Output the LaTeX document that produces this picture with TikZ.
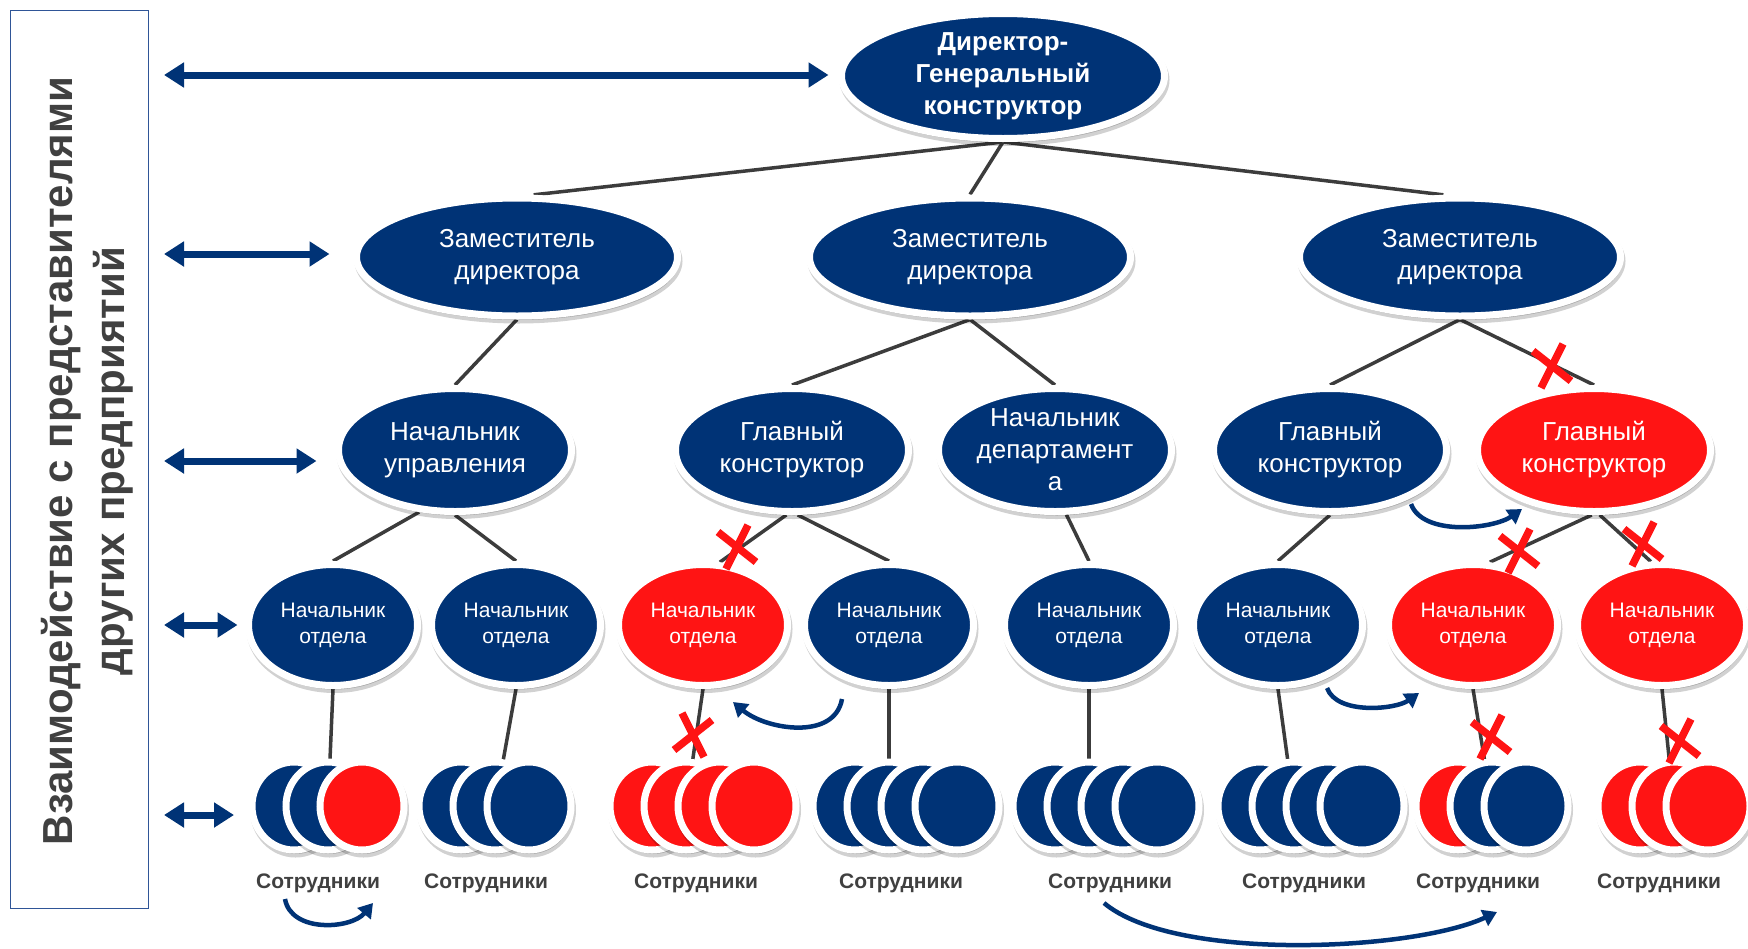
\documentclass[tikz,border=0pt]{standalone}
\usepackage{fontspec}
\setmainfont{Liberation Sans}
\usetikzlibrary{shapes.geometric,arrows.meta,shadows,backgrounds}
\definecolor{navy}{RGB}{0,51,118}
\definecolor{myred}{RGB}{255,20,20}
\definecolor{linegray}{RGB}{60,60,60}
\definecolor{textgray}{RGB}{64,64,64}
\definecolor{boxblue}{RGB}{47,85,151}
\tikzset{
  shad/.style={drop shadow={shadow xshift=1.5pt,shadow yshift=-4pt,opacity=0.18,fill=black,draw=black,line width=7pt}},
  ov/.style={ellipse,draw=white,line width=7pt,text=white,align=center,inner sep=0pt,shad},
  topn/.style={ov,fill=navy,minimum width=323pt,minimum height=125pt,font=\bfseries\fontsize{26}{32}\selectfont},
  lvltwo/.style={ov,minimum width=321pt,minimum height=118pt,font=\fontsize{26}{32}\selectfont},
  lvlthree/.style={ov,minimum width=233pt,minimum height=123pt,font=\fontsize{26}{32}\selectfont},
  lvlfour/.style={ov,minimum width=169pt,minimum height=121pt,font=\fontsize{21}{26}\selectfont},
  emp/.style={ov,minimum width=84pt,minimum height=88pt},
  bl/.style={fill=navy}, rd/.style={fill=myred},
  conn/.style={draw=linegray,line width=3.5pt},
  dbl/.style={draw=navy,line width=7pt,{Triangle[width=24pt,length=20pt]}-{Triangle[width=24pt,length=20pt]}},
  curv/.style={draw=navy,line width=4.5pt,-{Triangle[width=17pt,length=14pt]}},
  lab/.style={font=\bfseries\fontsize{21}{25}\selectfont,text=textgray},
  xline/.style={draw=myred,line width=7.5pt},
  redx/.pic={\draw[xline] (11,-22) -- (-11,22); \draw[xline] (-19,-15) -- (19,15);},
}
\begin{document}
\begin{tikzpicture}[x=1pt,y=-1pt]
\useasboundingbox (0,0) rectangle (1748,948);
\begin{scope}[on background layer]
\fill[white] (0,0) rectangle (1748,948);
\end{scope}

% left box
\node[draw=boxblue,line width=1.5pt,minimum width=138pt,minimum height=898pt,inner sep=0pt] (side) at (79.5,459.5) {};
\node[rotate=90,align=center,font=\bfseries\fontsize{42}{52}\selectfont,text=textgray] (sidetxt) at (87,461) {Взаимодействие с представителями\\других предприятий};

% nodes
\node[topn] (top) at (1003,76) {Директор-\\Генеральный\\конструктор};
\node[lvltwo,bl] (z1) at (517,257) {Заместитель\\директора};
\node[lvltwo,bl] (z2) at (970,257) {Заместитель\\директора};
\node[lvltwo,bl] (z3) at (1460,257) {Заместитель\\директора};

\node[lvlthree,bl] (nu) at (455,450) {Начальник\\управления};
\node[lvlthree,bl] (gk1) at (792,450) {Главный\\конструктор};
\node[lvlthree,bl] (nd) at (1055,450) {Начальник\\департамент\\а};
\node[lvlthree,bl] (gk2) at (1330,450) {Главный\\конструктор};
\node[lvlthree,rd] (gk3) at (1594,450) {Главный\\конструктор};

\node[lvlfour,bl] (no1) at (333,625) {Начальник\\отдела};
\node[lvlfour,bl] (no2) at (516,625) {Начальник\\отдела};
\node[lvlfour,rd] (no3) at (703,625) {Начальник\\отдела};
\node[lvlfour,bl] (no4) at (889,625) {Начальник\\отдела};
\node[lvlfour,bl] (no5) at (1089,625) {Начальник\\отдела};
\node[lvlfour,bl] (no6) at (1278,625) {Начальник\\отдела};
\node[lvlfour,rd] (no7) at (1473,625) {Начальник\\отдела};
\node[lvlfour,rd] (no8) at (1662,625) {Начальник\\отдела};

% employees
\foreach \c [count=\i] in {bl,bl,rd} \node[emp,\c] (ga\i) at ({294+34*(\i-1)},806) {};
\foreach \c [count=\i] in {bl,bl,bl} \node[emp,\c] (gb\i) at ({461+34*(\i-1)},806) {};
\foreach \c [count=\i] in {rd,rd,rd,rd} \node[emp,\c] (gc\i) at ({652+34*(\i-1)},806) {};
\foreach \c [count=\i] in {bl,bl,bl,bl} \node[emp,\c] (gd\i) at ({855+34*(\i-1)},806) {};
\foreach \c [count=\i] in {bl,bl,bl,bl} \node[emp,\c] (ge\i) at ({1055+34*(\i-1)},806) {};
\foreach \c [count=\i] in {bl,bl,bl,bl} \node[emp,\c] (gf\i) at ({1260+34*(\i-1)},806) {};
\foreach \c [count=\i] in {rd,bl,bl} \node[emp,\c] (gg\i) at ({1458+34*(\i-1)},806) {};
\foreach \c [count=\i] in {rd,rd,rd} \node[emp,\c] (gh\i) at ({1640+34*(\i-1)},806) {};

% labels
\node[lab] (s1) at (318,883) {Сотрудники};
\node[lab] (s2) at (486,883) {Сотрудники};
\node[lab] (s3) at (696,883) {Сотрудники};
\node[lab] (s4) at (901,883) {Сотрудники};
\node[lab] (s5) at (1110,883) {Сотрудники};
\node[lab] (s6) at (1304,883) {Сотрудники};
\node[lab] (s7) at (1478,883) {Сотрудники};
\node[lab] (s8) at (1659,883) {Сотрудники};

% connectors
\begin{scope}[on background layer]
\draw[conn] (top.south) -- (z1.75);
\draw[conn] (top.south) -- (z2.north);
\draw[conn] (top.south) -- (z3.105);
\draw[conn] (z1.south) -- (nu.north);
\draw[conn] (z2.south) -- (gk1.north);
\draw[conn] (z2.south) -- (nd.north);
\draw[conn] (z3.south) -- (gk2.north);
\draw[conn] (z3.south) -- (gk3.north);
\draw[conn] (nu.240) -- (no1.north);
\draw[conn] (nu.south) -- (no2.north);
\draw[conn] (gk1.265) -- (no3.75);
\draw[conn] (gk1.275) -- (no4.north);
\draw[conn] (nd.280) -- (no5.north);
\draw[conn] (gk2.south) -- (no6.north);
\draw[conn] (gk3.268) -- (no7.75);
\draw[conn] (gk3.275) -- (no8.100);
\draw[conn] (no1.south) -- (ga2.center);
\draw[conn] (no2.south) -- (gb2.center);
\draw[conn] (no3.south) -- (gc2.center);
\draw[conn] (no4.south) -- (gd2.center);
\draw[conn] (no5.south) -- (ge2.center);
\draw[conn] (no6.south) -- (gf2.center);
\draw[conn] (no7.south) -- (gg2.center);
\draw[conn] (no8.south) -- (gh2.center);
\end{scope}

% left double arrows
\coordinate (la) at (164,75);
\coordinate (lb) at (164,254);
\coordinate (lc) at (164,461);
\coordinate (ld) at (164,625);
\coordinate (le) at (164,815);
\draw[dbl,shorten >=9.5pt] (la) -- (la -| top.west);
\draw[dbl,shorten >=23.5pt] (lb) -- (lb -| z1.west);
\draw[dbl,shorten >=18.5pt] (lc) -- (lc -| nu.west);
\draw[dbl,shorten >=7.5pt] (ld) -- (ld -| no1.west);
\draw[dbl,shorten >=14.5pt] (le) -- (le -| ga1.west);

% curved arrows
\coordinate (c1s) at (285,899); \coordinate (c1e) at (373,903);
\coordinate (c2s) at (842,699); \coordinate (c2e) at (733,702);
\coordinate (c3s) at (1411,504); \coordinate (c3e) at (1522,509);
\coordinate (c4s) at (1327,688); \coordinate (c4e) at (1419,693);
\coordinate (c5s) at (1104,903); \coordinate (c5e) at (1497,912);
\draw[curv] (c1s) to[out=-80,in=-130] (c1e);
\draw[curv] (c2s) to[out=-100,in=-40] (c2e);
\draw[curv] (c3s) to[out=-70,in=-145,looseness=0.8] (c3e);
\draw[curv] (c4s) to[out=-70,in=-145,looseness=0.8] (c4e);
\draw[curv] (c5s) to[out=-40,in=-155,looseness=0.6] (c5e);

% red crosses
\pic at (737,547) {redx};
\pic at (1552,366) {redx};
\pic[xscale=-1] at (693,735) {redx};
\pic at (1519,551) {redx};
\pic at (1643,544) {redx};
\pic at (1491,737) {redx};
\pic at (1680,741) {redx};
\end{tikzpicture}
\end{document}
